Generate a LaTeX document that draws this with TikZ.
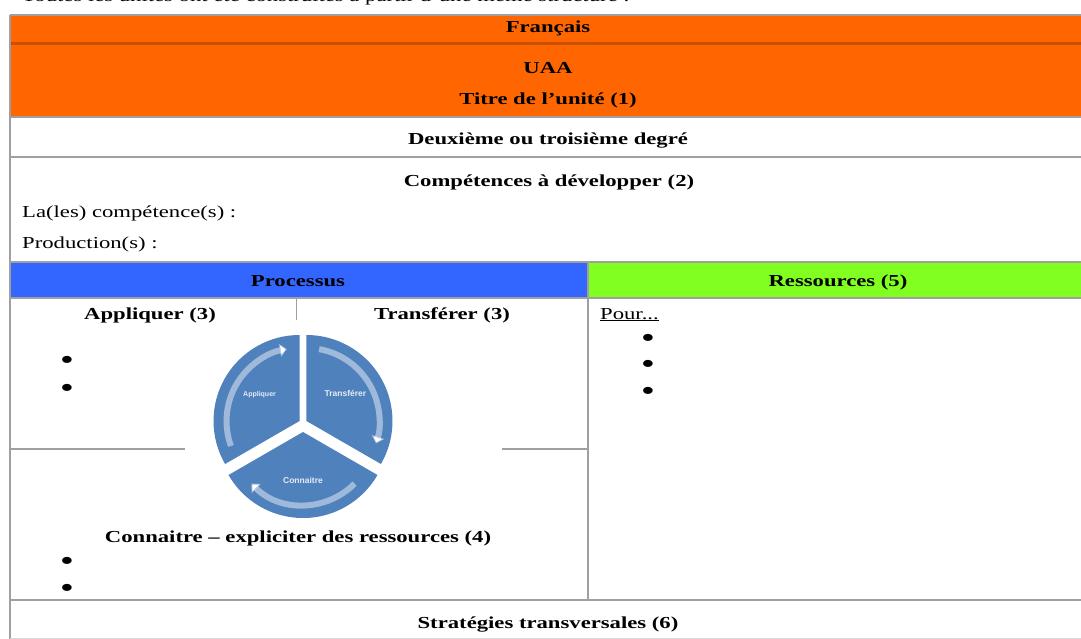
\documentclass[tikz,border=0pt]{standalone}
\usepackage{fontspec}
\setmainfont{Liberation Serif}[FakeStretch=1.35]
\setsansfont{Liberation Sans}
\usetikzlibrary{arrows.meta}
\definecolor{orangeF}{HTML}{FF6600}
\definecolor{orangeD}{HTML}{C85000}
\definecolor{blueP}{HTML}{3366FF}
\definecolor{greenR}{HTML}{80FF20}
\definecolor{rulec}{HTML}{A0A0A0}
\definecolor{smart}{HTML}{4F81BD}
\begin{document}
\begin{tikzpicture}[x=1pt,y=-1pt,
  txt/.style={font=\fontsize{16.8}{20}\selectfont, inner sep=0pt},
  hd/.style={font=\fontsize{16.8}{20}\selectfont\bfseries, inner sep=0pt},
  bul/.style={font=\fontsize{26}{26}\selectfont\bfseries, inner sep=0pt},
  rl/.style={draw=rulec, line width=1.6pt},
  seg/.style={fill=smart},
  cyc/.style={draw=white, draw opacity=0.45, line width=6pt, -{Triangle[width=13pt,length=7pt]}},
  lab/.style={font=\sffamily\bfseries\fontsize{8.5}{9}\selectfont, text=white, text opacity=0.85, inner sep=0pt}]
\useasboundingbox (0,0) rectangle (1081,639);
\clip (0,0) rectangle (1081,639);
\fill[white] (0,0) rectangle (1081,639);
% caption line, cut by the top edge
\node[txt, anchor=base west] (cap) at (22,1.5) {Toutes les unités ont été construites à partir d’une même structure :};
% coloured cells
\fill[orangeF] (10,15) rectangle (1081,117);
\draw[orangeD, line width=3pt] (10,44) -- (1081,44);
\fill[blueP] (10,262) rectangle (588,298);
\fill[greenR] (588,262) rectangle (1081,298);
% rules
\draw[rl] (10,15) -- (1081,15);
\draw[rl] (10,117) -- (1081,117);
\draw[rl] (10,157) -- (1081,157);
\draw[rl] (10,262) -- (1081,262);
\draw[rl] (10,298) -- (1081,298);
\draw[rl] (10,600) -- (1081,600);
\draw[rl] (10,15) -- (10,639);
\draw[rl] (588,262) -- (588,600);
\draw[rl, line width=1pt] (296,298) -- (296,320);
\draw[rl] (10,449) -- (185,449);
\draw[rl] (502,449) -- (588,449);
\draw[draw=rulec!40, line width=1pt] (10,638.5) -- (1081,638.5);
% texts
\node[hd, anchor=base] (fr) at (548,33) {Français};
\node[hd, anchor=base] (uaa) at (548,74) {UAA};
\node[hd, anchor=base] (titre) at (548,105) {Titre de l’unité (1)};
\node[hd, anchor=base] (degre) at (548,145) {Deuxième ou troisième degré};
\node[hd, anchor=base] (comp) at (549,186) {Compétences à développer (2)};
\node[txt, anchor=base west] (lales) at (22,218) {La(les) compétence(s) :};
\node[txt, anchor=base west] (prod) at (22,248) {Production(s) :};
\node[hd, anchor=base] (proc) at (298,286) {Processus};
\node[hd, anchor=base] (ress) at (838,286) {Ressources (5)};
\node[hd, anchor=base] (appl) at (150,319) {Appliquer (3)};
\node[hd, anchor=base] (trans) at (442,319) {Transférer (3)};
\node[txt, anchor=base west] (pour) at (600,319) {\underline{Pour...}};
\node[bul] (b1) at (67,362) {\textbullet};
\node[bul] (b2) at (67,390) {\textbullet};
\node[bul] (b3) at (648,340) {\textbullet};
\node[bul] (b4) at (648,366) {\textbullet};
\node[bul] (b5) at (648,393) {\textbullet};
\node[hd, anchor=base] (conn) at (298,542) {Connaitre – expliciter des ressources (4)};
\node[bul] (b6) at (67,563) {\textbullet};
\node[bul] (b7) at (67,590) {\textbullet};
\node[hd, anchor=base] (strat) at (548,628) {Stratégies transversales (6)};
% cycle graphic
\begin{scope}[shift={(303,423)}, yscale=-1]
  \begin{scope}[shift={(150:4)}]
    \fill[seg] (0,0) -- (90:86) arc[start angle=90, end angle=210, radius=86] -- cycle;
    \draw[cyc] (200:73) arc[start angle=200, end angle=100, radius=73];
    \node[lab, font=\sffamily\bfseries\fontsize{7}{8}\selectfont] (sa) at (-40,26) {Appliquer};
  \end{scope}
  \begin{scope}[shift={(30:4)}]
    \fill[seg] (0,0) -- (-30:86) arc[start angle=-30, end angle=90, radius=86] -- cycle;
    \draw[cyc] (80:73) arc[start angle=80, end angle=-18, radius=73];
    \node[lab] (st) at (39,28) {Transférer};
  \end{scope}
  \begin{scope}[shift={(270:9)}]
    \fill[seg] (0,0) -- (210:86) arc[start angle=210, end angle=330, radius=86] -- cycle;
    \draw[cyc] (-45:73) arc[start angle=-45, end angle=-135, radius=73];
    \node[lab] (sc) at (0,-48) {Connaitre};
  \end{scope}
\end{scope}
\end{tikzpicture}
\end{document}
